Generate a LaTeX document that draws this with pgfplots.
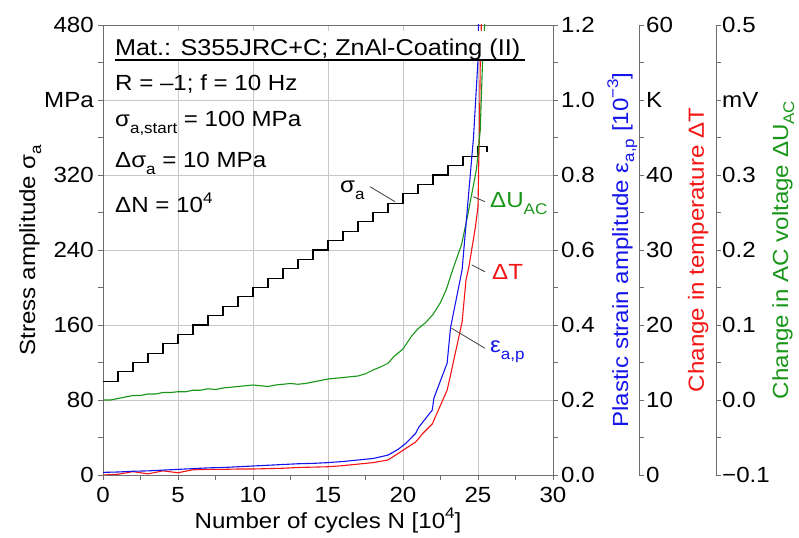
\documentclass[border=0pt]{standalone}
\usepackage{fontspec}
\setmainfont{Liberation Sans}[FakeStretch=1.1]
\usepackage{pgfplots}
\pgfplotsset{compat=1.18}
\definecolor{cblue}{RGB}{20,20,235}
\definecolor{cred}{RGB}{245,20,20}
\definecolor{cgreen}{RGB}{25,150,25}
\definecolor{caxis}{RGB}{110,110,110}
\definecolor{cgrid}{RGB}{200,200,200}
\newcommand{\sub}[1]{\raisebox{-0.28em}{\fontsize{15.5}{16}\selectfont #1}}
\newcommand{\sups}[1]{\raisebox{0.45em}{\fontsize{15.5}{16}\selectfont #1}}
\pgfplotsset{
  base/.style={
    scale only axis, width=450bp, height=450bp, at={(0,0)}, anchor=south west,
    xmin=0, xmax=30,
    font=\fontsize{22}{26}\selectfont,
    /pgf/number format/assume math mode=true,
    tick align=outside,
    major tick length=5bp, minor tick length=5bp,
    every tick/.style={caxis, line width=0.8bp},
    axis line style={caxis, line width=0.9bp},
  },
}
\begin{document}
\begin{tikzpicture}[font=\fontsize{22}{26}\selectfont]
\useasboundingbox (-103bp,-63bp) rectangle (696bp,475bp);
% main axis: stress
\begin{axis}[base,
  ymin=0, ymax=480,
  xtick={0,5,10,15,20,25,30}, xticklabels={0,5,10,15,20,25,30}, minor x tick num=1,
  ytick={0,80,160,240,320,400,480}, yticklabels={0,80,160,240,320,MPa,480}, minor y tick num=1,
  xtick pos=left, ytick pos=left,
  grid=major, major grid style={cgrid, line width=0.8bp},
  xticklabel style={anchor=base, inner sep=0pt, yshift=-22bp},
  yticklabel style={anchor=east, inner sep=0pt, xshift=-4bp},
  xlabel={Number of cycles N [10\sups{4}]},
  xlabel style={at={(axis description cs:0.5,-0.1178)}, anchor=base, inner sep=0pt},
  ylabel={Stress amplitude σ\sub{a}},
  ylabel style={at={(axis description cs:-0.1511,0.5)}, anchor=base, inner sep=0pt},
]
\addplot[black, line width=1.1bp, const plot] coordinates {
(0,100)(1,110)(2,120)(3,130)(4,140)(5,150)(6,160)(7,170)(8,180)(9,190)
(10,200)(11,210)(12,220)(13,230)(14,240)(15,250)(16,260)(17,270)(18,280)(19,290)
(20,300)(21,310)(22,320)(23,330)(24,340)(25,350)(25.6,350)(25.6,345)};
\end{axis}
% temperature data
\begin{axis}[base, ymin=0, ymax=60, hide axis]
\addplot[cred, line width=1.1bp] coordinates {
(0,0)(1,0.1)(2,0.45)(3,0.15)(4,0.55)(5,0.3)(6,0.7)(7,0.75)(8,0.75)(9,0.8)(10,0.8)
(11,0.85)(12,0.9)(13,1.0)(14,1.05)(15,1.1)(16,1.25)(17,1.45)(18,1.65)(19,2.0)
(19.7,2.9)(20.84,4.4)(21.06,4.9)(21.3,5.5)(21.95,6.8)(22.94,11.3)(23.1,12.7)
(23.94,20.4)(24.2,26.0)(24.4,27.8)(24.6,30.3)(24.83,33.1)(25.0,35.8)(25.05,41.6)
(25.1,46)(25.15,55)(25.25,62)};
\end{axis}
% AC voltage data
\begin{axis}[base, ymin=-0.1, ymax=0.5, hide axis]
\addplot[cgreen, line width=1.1bp] coordinates {
(0,0.000)(0.5,0.000)(1,0.002)(1.5,0.004)(2,0.006)(2.5,0.006)(3,0.008)(3.5,0.008)
(4,0.010)(4.5,0.010)(5,0.011)(5.5,0.011)(6,0.013)(6.5,0.013)(7,0.015)(7.5,0.014)
(8,0.016)(8.5,0.017)(9,0.018)(9.5,0.019)(10,0.020)(10.5,0.019)(11,0.018)(11.5,0.020)
(12,0.021)(12.5,0.022)(13,0.021)(13.5,0.022)(14,0.024)(14.5,0.026)(15,0.028)
(15.5,0.029)(16,0.030)(16.5,0.031)(17,0.032)(17.5,0.035)(18,0.040)(18.5,0.044)
(19,0.049)(19.4,0.058)(19.7,0.063)(20.0,0.068)(20.6,0.086)(21.0,0.095)(21.5,0.103)
(22.0,0.114)(22.5,0.130)(22.9,0.148)(23.3,0.173)(23.9,0.207)(24.3,0.245)(24.9,0.308)
(25.15,0.36)(25.3,0.45)(25.5,0.52)};
\end{axis}
% strain axis + data
\begin{axis}[base, ymin=0, ymax=1.2, axis x line=none, axis y line*=right,
  ytick={0,0.2,0.4,0.6,0.8,1.0,1.2}, yticklabels={0.0,0.2,0.4,0.6,0.8,1.0,1.2},
  minor y tick num=1,
  yticklabel style={anchor=west, inner sep=0pt, xshift=3bp},
  ylabel={Plastic strain amplitude ε\sub{a,p} [10\sups{−3}]},
  ylabel style={at={(axis description cs:1.1667,0.5)}, anchor=base, inner sep=0pt, text=cblue},
]
\addplot[cblue, line width=1.1bp] coordinates {
(0,0.007)(1,0.008)(2,0.010)(3,0.011)(4,0.013)(5,0.015)(6,0.017)(7,0.019)(8,0.020)
(9,0.022)(10,0.024)(11,0.026)(12,0.028)(13,0.030)(14,0.031)(15,0.033)(16,0.036)
(17,0.040)(18,0.044)(19,0.053)(19.7,0.069)(20.2,0.085)(20.84,0.111)(21.06,0.128)
(21.95,0.173)(22.06,0.205)(22.94,0.298)(23.06,0.347)(23.17,0.393)(23.94,0.547)
(24.7,0.90)(25.0,1.107)(25.05,1.25)};
\end{axis}
% temperature scale
\begin{axis}[base, at={(86bp,0)}, ymin=0, ymax=60, axis x line=none, axis y line*=right,
  ytick={0,10,20,30,40,50,60}, yticklabels={0,10,20,30,40,K,60},
  minor y tick num=1,
  yticklabel style={anchor=west, inner sep=0pt, xshift=2bp},
  ylabel={Change in temperature ΔT},
  ylabel style={at={(axis description cs:1.1444,0.5)}, anchor=base, inner sep=0pt, text=cred},
]
\end{axis}
% voltage scale
\begin{axis}[base, at={(163bp,0)}, ymin=-0.1, ymax=0.5, axis x line=none, axis y line*=right,
  ytick={-0.1,0,0.1,0.2,0.3,0.4,0.5}, yticklabels={−0.1,0.0,0.1,0.2,0.3,mV,0.5},
  minor y tick num=1,
  yticklabel style={anchor=west, inner sep=0pt, xshift=1bp},
  ylabel={Change in AC voltage ΔU\sub{AC}},
  ylabel style={at={(axis description cs:1.1600,0.5)}, anchor=base, inner sep=0pt, text=cgreen},
]
\end{axis}
% annotations
\fill[white] (10bp,415bp) rectangle (424bp,444bp);
\node[anchor=base west, inner sep=0pt, font=\fontsize{23}{26}\selectfont] at (12bp,419bp) {Mat.: S355JRC+C; ZnAl-Coating (II)};
\draw[black, line width=1.2bp] (12bp,415bp) -- (422bp,415bp);
\node[anchor=base west, inner sep=0pt] at (12bp,384bp) {R = –1; f = 10 Hz};
\node[anchor=base west, inner sep=0pt] at (12bp,348bp) {σ\sub{a,start} = 100 MPa};
\node[anchor=base west, inner sep=0pt] at (12bp,307bp) {Δσ\sub{a} = 10 MPa};
\node[anchor=base west, inner sep=0pt] at (12bp,262bp) {ΔN = 10\sups{4}};
\node[anchor=base west, inner sep=0pt] at (237bp,282bp) {σ\sub{a}};
\draw[black!75, line width=0.8bp] (267bp,288.3bp) -- (292bp,273.3bp);
\node[anchor=base west, inner sep=0pt, text=cgreen] at (387bp,267bp) {ΔU\sub{AC}};
\draw[black!75, line width=0.8bp] (370.3bp,278.3bp) -- (382bp,273.3bp);
\node[anchor=base west, inner sep=0pt, text=cred] at (389bp,195bp) {ΔT};
\draw[black!75, line width=0.8bp] (368.7bp,210bp) -- (382bp,203.3bp);
\node[anchor=base west, inner sep=0pt, text=cblue] at (387bp,122bp) {ε\sub{a,p}};
\draw[black!75, line width=0.8bp] (348.7bp,146.7bp) -- (382bp,126.7bp);
\end{tikzpicture}
\end{document}
